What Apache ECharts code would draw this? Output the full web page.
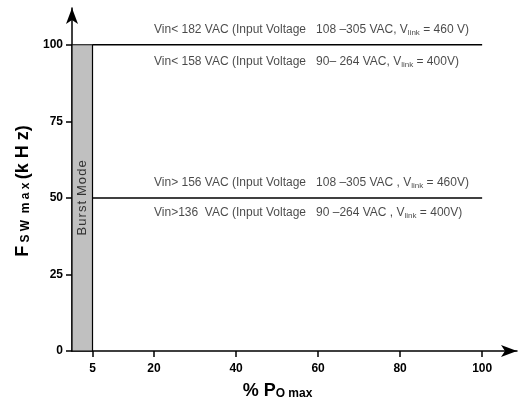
<!DOCTYPE html>
<html>
<head>
<meta charset="utf-8">
<script src="https://cdn.jsdelivr.net/npm/echarts@6/dist/echarts.min.js"></script>
<style>html,body{margin:0;padding:0;background:#fff;}#c{width:518px;height:410px;}</style>
</head>
<body>
<div id="c"></div>
<script>
const xTicks = [5, 20, 40, 60, 80, 100];
const yTicks = [0, 25, 50, 75, 100];
const burstRange = [0, 5];
const burstTop = 100;
const highLine = [[5, 100], [100, 100]];
const lowLine = [[5, 50], [100, 50]];
const noteTexts = [
  'Vin< 182 VAC (Input Voltage   108 –305 VAC, V{s|link} = 460 V)',
  'Vin< 158 VAC (Input Voltage   90– 264 VAC, V{s|link} = 400V)',
  'Vin> 156 VAC (Input Voltage   108 –305 VAC , V{s|link} = 460V)',
  'Vin>136  VAC (Input Voltage   90 –264 VAC , V{s|link} = 400V)'
];
const noteAnchors = [[20, 104.9], [20, 94.4], [20, 54.9], [20, 45.2]];

const chart = echarts.init(document.getElementById('c'));
const noteFont = '"Liberation Sans Narrow", "Liberation Sans", Arial, sans-serif';
const boldFont = '"Liberation Sans", Arial, sans-serif';
const h = '\u200A';
chart.setOption({
  animation: false,
  grid: { left: 72, right: 1, top: 8, bottom: 59 },
  xAxis: {
    type: 'value', min: 0, max: 108.5,
    splitLine: { show: false },
    axisLine: { lineStyle: { color: '#000', width: 1.5 }, symbol: ['none', 'arrow'], symbolSize: [9, 16] },
    axisTick: { customValues: xTicks, length: 6, lineStyle: { color: '#000', width: 1.5 } },
    axisLabel: { customValues: xTicks, color: '#000', fontWeight: 'bold', fontSize: 12, fontFamily: boldFont, margin: 12 },
    name: '{a|% P}{b|O max}{p|}',
    nameLocation: 'middle', nameGap: 29,
    nameTextStyle: {
      rich: {
        a: { fontSize: 18, fontWeight: 'bold', fontFamily: boldFont, color: '#000', verticalAlign: 'bottom', lineHeight: 20 },
        b: { fontSize: 12, fontWeight: 'bold', fontFamily: boldFont, color: '#000', verticalAlign: 'bottom', lineHeight: 16 },
        p: { width: 34, fontSize: 12 }
      }
    }
  },
  yAxis: {
    type: 'value', min: 0, max: 112,
    splitLine: { show: false },
    axisLine: { lineStyle: { color: '#000', width: 1.5 }, symbol: ['none', 'arrow'], symbolSize: [9, 16] },
    axisTick: { customValues: yTicks, length: 6, lineStyle: { color: '#000', width: 1.5 } },
    axisLabel: { customValues: yTicks, color: '#000', fontWeight: 'bold', fontSize: 12, fontFamily: boldFont, margin: 9 },
    name: '{a|F}{b| S W  m a x }{a|(k H z)}{p|}',
    nameLocation: 'middle', nameGap: 38, nameRotate: 90,
    nameTextStyle: {
      rich: {
        a: { fontSize: 18, fontWeight: 'bold', fontFamily: boldFont, color: '#000', verticalAlign: 'bottom', lineHeight: 20 },
        b: { fontSize: 12, fontWeight: 'bold', fontFamily: boldFont, color: '#000', verticalAlign: 'bottom', lineHeight: 16 },
        p: { width: 23, fontSize: 12 }
      }
    }
  },
  series: [
    {
      type: 'line', data: highLine, symbol: 'none', lineStyle: { color: '#000', width: 1.5 },
      markArea: {
        silent: true,
        itemStyle: { color: '#c0c0c0', borderColor: '#000', borderWidth: 1.2 },
        label: {
          show: true, position: 'inside', rotate: 90,
          formatter: ['B', 'u', 'r', 's', 't'].join(h) + ' ' + h + ['M', 'o', 'd', 'e'].join(h),
          color: '#333', fontSize: 13, fontFamily: boldFont
        },
        data: [[{ coord: [burstRange[0], 0] }, { coord: [burstRange[1], burstTop] }]]
      }
    },
    { type: 'line', data: lowLine, symbol: 'none', lineStyle: { color: '#000', width: 1.5 } },
    {
      type: 'scatter', symbolSize: 0, silent: true,
      data: noteAnchors.map((p, i) => ({ value: p, name: noteTexts[i] })),
      label: {
        show: true, position: 'right', distance: 0, formatter: p => p.name,
        color: '#1a1a1a', fontSize: 12, fontFamily: noteFont,
        rich: { s: { fontSize: 8, fontFamily: noteFont, color: '#1a1a1a', verticalAlign: 'bottom', padding: [6, 0, 0, 0] } }
      }
    }
  ]
});
</script>
</body>
</html>
